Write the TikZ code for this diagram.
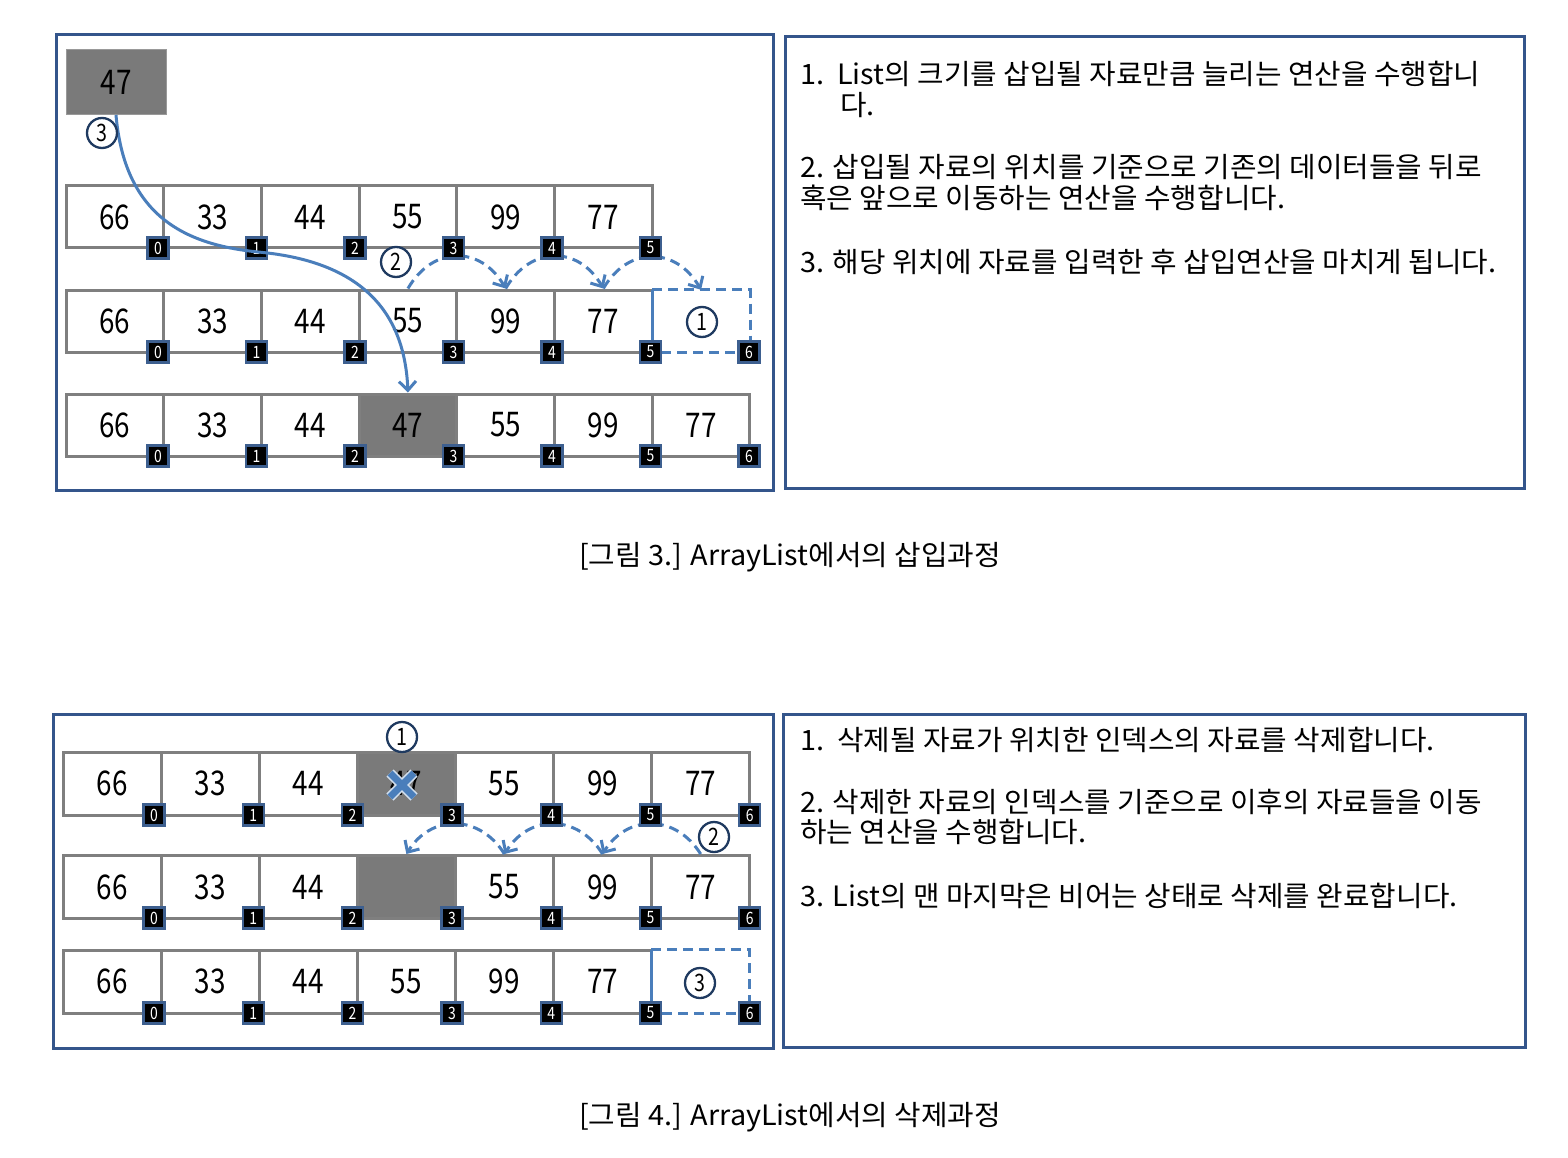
\documentclass[tikz,border=0pt]{standalone}
\usepackage{fontspec}
\setmainfont{Noto Sans CJK KR}
\newfontfamily\numfont[FakeStretch=0.82]{Noto Sans CJK KR}
\newfontfamily\txtfont[FakeStretch=1.03]{Noto Sans CJK KR}
\usetikzlibrary{arrows.meta}
\definecolor{framebl}{HTML}{34558B}
\definecolor{cellgr}{HTML}{7F7F7F}
\definecolor{fillgr}{HTML}{7A7A7A}
\definecolor{arrbl}{HTML}{4A7EBB}
\definecolor{idxbl}{HTML}{3D5F8F}
\definecolor{navyc}{HTML}{1F3A60}
\begin{document}
\begin{tikzpicture}[x=1pt,y=-1pt,
  cellbox/.style={draw=cellgr, line width=3pt, minimum width=97.7pt, minimum height=62pt, inner sep=0pt, font=\numfont\fontsize{34}{34}\selectfont},
  cellboxb/.style={cellbox, minimum width=98.1pt, minimum height=63pt},
  emptycell/.style={minimum width=97.7pt, minimum height=62pt, inner sep=0pt},
  emptycellb/.style={minimum width=98.1pt, minimum height=63pt, inner sep=0pt},
  idxbox/.style={fill=black, draw=idxbl, line width=2.2pt, minimum size=21pt, inner sep=0pt, text=white, font=\numfont\fontsize{17}{17}\selectfont},
  circnum/.style={circle, draw=navyc, fill=white, line width=2.3pt, minimum size=30pt, inner sep=0pt, font=\numfont\fontsize{24}{24}\selectfont},
  framebox/.style={draw=framebl, line width=3pt},
  shiftarr/.style={draw=arrbl, line width=3pt, dash pattern=on 10pt off 6pt, -{Straight Barb[length=9pt,width=17pt]}},
  movearr/.style={draw=arrbl, line width=3pt, -{Straight Barb[length=9pt,width=17pt]}},
  dashcell/.style={draw=arrbl, line width=3pt, dash pattern=on 10pt off 6pt},
  txt/.style={anchor=west, inner sep=0pt, font=\txtfont\fontsize{28}{28}\selectfont},
  captext/.style={inner sep=0pt, font=\txtfont\fontsize{28}{28}\selectfont}
]
\useasboundingbox (0,0) rectangle (1568,1158);
\fill[white] (0,0) rectangle (1568,1158);

% ===== Insertion frames =====
\draw[framebox] (56,35) rectangle (773,490);
\draw[framebox] (785,37) rectangle (1524,488);

% element to insert
\node[fill=fillgr, draw=gray!80, line width=1pt, minimum width=100pt, minimum height=65pt, inner sep=0pt,
  font=\numfont\fontsize{34}{34}\selectfont] (big) at (116,82) {47};

% row 1
\foreach \v [count=\i from 0] in {66,33,44,55,99,77}
  \node[cellbox] (ta\i) at ({66+97.7*(\i+0.5)},217) {\v};
% row 2
\foreach \v [count=\i from 0] in {66,33,44,55,99,77}
  \node[cellbox] (tb\i) at ({66+97.7*(\i+0.5)},321) {\v};
\node[emptycell] (tb6) at ({66+97.7*6.5},321) {};
\draw[dashcell] (tb6.north west) -- (tb6.north east) -- (tb6.south east) -- (tb6.south west);
\draw[draw=arrbl, line width=3pt] (tb6.north west) -- (tb6.south west);
% row 3
\fill[fillgr] ({66+97.7*3},394) rectangle ({66+97.7*4},456);
\foreach \v [count=\i from 0] in {66,33,44,47,55,99,77}
  \node[cellbox] (tc\i) at ({66+97.7*(\i+0.5)},425) {\v};

% shift arcs (insertion)
\draw[shiftarr] (tb3.north) .. controls +(25,-43) and +(-25,-43) .. (tb4.north);
\draw[shiftarr] (tb4.north) .. controls +(25,-43) and +(-25,-43) .. (tb5.north);
\draw[shiftarr] (tb5.north) .. controls +(25,-43) and +(-25,-43) .. (tb6.north);

% index boxes
\foreach \i in {0,...,5} \node[idxbox] (tai\i) at ({158+98.5*\i},248) {\i};
\foreach \i in {0,...,6} \node[idxbox] (tbi\i) at ({158+98.5*\i},352) {\i};
\foreach \i in {0,...,6} \node[idxbox] (tci\i) at ({158+98.5*\i},456) {\i};

% insertion path
\coordinate (mid) at (258,252);
\draw[movearr] (big.south) .. controls (125,220) and (190,245) .. (mid)
  .. controls (370,262) and (405,320) .. (tc3.north);

% step numbers
\node[circnum] (s3) at (102,133) {3};
\node[circnum] (s2) at (396,262) {2};
\node[circnum] (s1) at (702,322) {1};

% text
\node[txt] (l1) at (800,74) {1.\ \ List의 크기를 삽입될 자료만큼 늘리는 연산을 수행합니};
\node[txt] (l1b) at (840,105) {다.};
\node[txt] (l2) at (800,167) {2. 삽입될 자료의 위치를 기준으로 기존의 데이터들을 뒤로};
\node[txt] (l2b) at (800,198) {혹은 앞으로 이동하는 연산을 수행합니다.};
\node[txt] (l3) at (800,262) {3. 해당 위치에 자료를 입력한 후 삽입연산을 마치게 됩니다.};

\node[captext] (cap3) at (790,557) {[그림 3.] ArrayList에서의 삽입과정};

% ===== Deletion frames =====
\draw[framebox] (53,714) rectangle (773,1048);
\draw[framebox] (783,714) rectangle (1525,1047);

% row 1
\fill[fillgr] ({63+98.1*3},752) rectangle ({63+98.1*4},815);
\foreach \v [count=\i from 0] in {66,33,44,47,55,99,77}
  \node[cellboxb] (ba\i) at ({63+98.1*(\i+0.5)},783.5) {\v};
% row 2
\fill[fillgr] ({63+98.1*3},856) rectangle ({63+98.1*4},918);
\foreach \v [count=\i from 0] in {66,33,44,{},55,99,77}
  \node[cellboxb] (bb\i) at ({63+98.1*(\i+0.5)},887) {\v};
% row 3
\foreach \v [count=\i from 0] in {66,33,44,55,99,77}
  \node[cellboxb] (bc\i) at ({63+98.1*(\i+0.5)},981.5) {\v};
\node[emptycellb] (bc6) at ({63+98.1*6.5},981.5) {};
\draw[dashcell] (bc6.north west) -- (bc6.north east) -- (bc6.south east) -- (bc6.south west);
\draw[draw=arrbl, line width=3pt] (bc6.north west) -- (bc6.south west);

% cross mark
\draw[white!75!arrbl, line width=10pt] (390,773) -- (414,797) (414,773) -- (390,797);
\draw[arrbl, line width=7pt] (390,773) -- (414,797) (414,773) -- (390,797);

% shift arcs (deletion)
\draw[shiftarr] (bb6.north) .. controls +(-25,-40) and +(25,-40) .. (bb5.north);
\draw[shiftarr] (bb5.north) .. controls +(-25,-40) and +(25,-40) .. (bb4.north);
\draw[shiftarr] (bb4.north) .. controls +(-25,-40) and +(25,-40) .. (bb3.north);

% index boxes
\foreach \i in {0,...,6} \node[idxbox] (bai\i) at ({154+99.3*\i},815) {\i};
\foreach \i in {0,...,6} \node[idxbox] (bbi\i) at ({154+99.3*\i},918) {\i};
\foreach \i in {0,...,6} \node[idxbox] (bci\i) at ({154+99.3*\i},1013) {\i};

% step numbers
\node[circnum] (d1) at (402,737) {1};
\node[circnum] (d2) at (714,837) {2};
\node[circnum] (d3) at (700,983) {3};

% text
\node[txt] (m1) at (800,740) {1.\ \ 삭제될 자료가 위치한 인덱스의 자료를 삭제합니다.};
\node[txt] (m2) at (800,802) {2. 삭제한 자료의 인덱스를 기준으로 이후의 자료들을 이동};
\node[txt] (m2b) at (800,832) {하는 연산을 수행합니다.};
\node[txt] (m3) at (800,896) {3. List의 맨 마지막은 비어는 상태로 삭제를 완료합니다.};

\node[captext] (cap4) at (790,1117) {[그림 4.] ArrayList에서의 삭제과정};
\end{tikzpicture}
\end{document}
